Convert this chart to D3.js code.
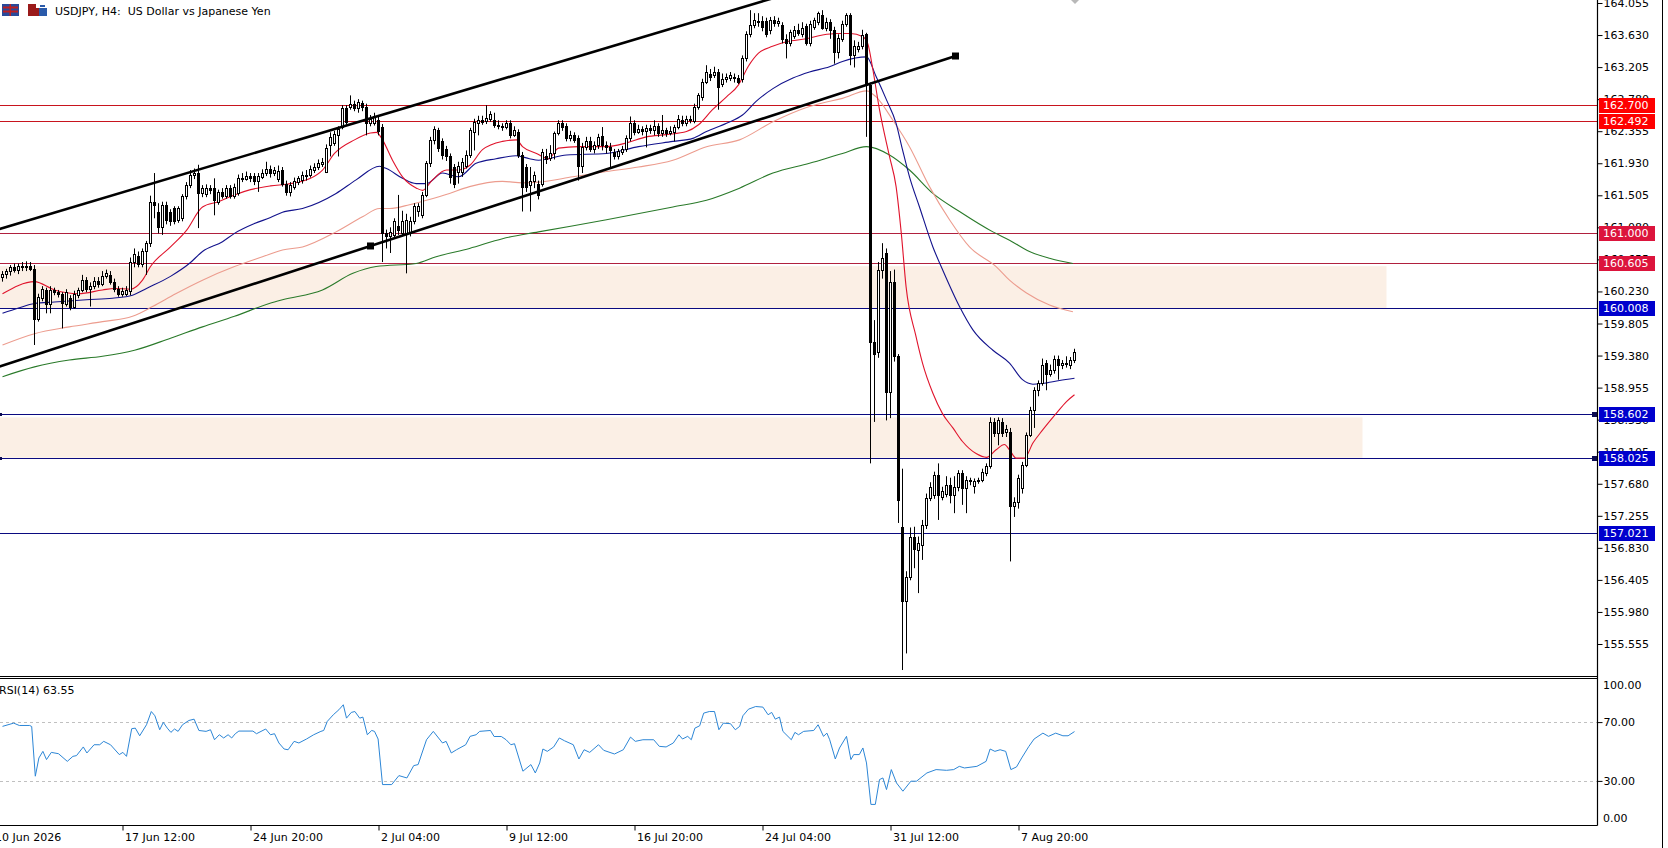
<!DOCTYPE html>
<html>
<head>
<meta charset="UTF-8">
<title>USDJPY H4</title>
<style>
  html, body { margin: 0; padding: 0; background: #fff; overflow: hidden; }
  svg text { font-family: "DejaVu Sans", sans-serif; font-size: 11px; fill: #000; }
  .axis path { display: none; }
  .axis line { stroke: #000; }
</style>
<script src="https://d3js.org/d3.v7.min.js"></script>
</head>
<body>
<script>
// ---- data ----
const title = "USDJPY, H4:  US Dollar vs Japanese Yen";

// H4 bars: [open, high, low, close]
const ohlc = [
  [160.42,160.50,160.36,160.46],[160.46,160.53,160.40,160.50],[160.50,160.58,160.44,160.55],[160.55,160.60,160.48,160.52],
  [160.52,160.60,160.46,160.57],[160.57,160.62,160.50,160.55],[160.55,160.63,160.50,160.57],[160.57,160.62,160.50,160.53],
  [160.53,160.58,159.52,159.87],[159.87,160.20,159.83,160.16],[160.14,160.30,160.10,160.26],[160.25,160.28,159.94,160.07],
  [160.07,160.30,159.94,160.25],[160.25,160.28,160.18,160.22],[160.22,160.25,160.15,160.20],[160.20,160.22,159.74,160.08],
  [160.06,160.26,160.03,160.22],[160.14,160.18,159.98,160.02],[160.03,160.24,160.00,160.20],[160.18,160.28,160.14,160.25],
  [160.25,160.45,160.22,160.38],[160.38,160.42,160.22,160.26],[160.26,160.35,160.03,160.30],[160.30,160.42,160.26,160.37],
  [160.37,160.42,160.28,160.33],[160.33,160.50,160.30,160.44],[160.44,160.52,160.40,160.47],[160.45,160.50,160.32,160.36],
  [160.36,160.40,160.22,160.26],[160.26,160.30,160.16,160.20],[160.20,160.28,160.16,160.23],[160.20,160.30,160.17,160.25],
  [160.23,160.68,160.18,160.62],[160.62,160.80,160.55,160.72],[160.70,160.76,160.55,160.60],[160.60,160.80,160.55,160.76],
  [160.76,160.90,160.45,160.87],[160.87,161.50,160.82,161.42],[161.42,161.80,161.20,161.38],[161.29,161.40,161.00,161.09],
  [161.09,161.42,160.98,161.38],[161.38,161.42,161.12,161.18],[161.28,161.32,161.10,161.16],[161.33,161.36,161.12,161.16],
  [161.18,161.36,161.14,161.33],[161.20,161.52,161.16,161.49],[161.49,161.68,161.45,161.64],[161.64,161.84,161.60,161.78],
  [161.77,161.86,161.72,161.80],[161.80,161.91,161.07,161.53],[161.53,161.64,161.48,161.60],[161.52,161.65,161.48,161.60],
  [161.60,161.64,161.52,161.57],[161.60,161.73,161.24,161.44],[161.42,161.58,161.38,161.55],[161.55,161.60,161.46,161.50],
  [161.50,161.64,161.46,161.60],[161.60,161.64,161.46,161.50],[161.50,161.66,161.46,161.62],[161.53,161.78,161.50,161.74],
  [161.74,161.80,161.68,161.72],[161.72,161.82,161.70,161.76],[161.76,161.80,161.68,161.73],[161.76,161.80,161.64,161.70],
  [161.70,161.80,161.55,161.76],[161.75,161.85,161.72,161.80],[161.80,161.95,161.76,161.86],[161.86,161.90,161.74,161.80],
  [161.80,161.88,161.76,161.84],[161.72,161.90,161.68,161.83],[161.84,161.88,161.62,161.66],[161.66,161.70,161.50,161.55],
  [161.55,161.68,161.49,161.64],[161.62,161.74,161.58,161.69],[161.68,161.76,161.64,161.73],[161.71,161.82,161.66,161.77],
  [161.76,161.84,161.70,161.78],[161.78,161.90,161.74,161.86],[161.84,161.93,161.80,161.88],[161.88,161.98,161.84,161.93],
  [161.92,162.00,161.88,161.95],[161.82,162.18,161.80,162.13],[162.17,162.34,162.02,162.28],[162.20,162.36,162.16,162.32],
  [162.30,162.42,162.02,162.38],[162.41,162.70,162.38,162.66],[162.66,162.70,162.44,162.48],[162.68,162.83,162.64,162.72],
  [162.72,162.76,162.62,162.66],[162.66,162.78,162.60,162.74],[162.73,162.76,162.62,162.67],[162.68,162.72,162.30,162.46],
  [162.46,162.57,162.42,162.52],[162.47,162.60,162.43,162.56],[162.50,162.56,162.30,162.36],[162.41,162.45,160.62,161.00],
  [161.00,161.05,160.80,160.96],[160.97,161.08,160.74,161.02],[160.98,161.20,160.94,161.16],[161.10,161.51,160.98,161.05],
  [161.00,161.30,160.96,161.16],[161.00,161.26,160.47,161.18],[161.00,161.22,160.96,161.16],[161.16,161.40,161.12,161.36],
  [161.30,161.40,161.22,161.36],[161.24,161.55,161.20,161.51],[161.51,161.96,161.48,161.93],[161.93,162.28,161.88,162.24],
  [162.24,162.42,162.18,162.39],[162.37,162.40,162.08,162.13],[162.22,162.26,161.98,162.04],[162.12,162.16,161.96,162.02],
  [162.02,162.06,161.66,161.75],[161.88,161.92,161.60,161.66],[161.82,161.95,161.66,161.90],[161.82,162.00,161.75,161.95],
  [161.90,162.10,161.86,162.04],[162.04,162.40,162.00,162.37],[162.35,162.52,162.10,162.48],[162.46,162.56,162.30,162.50],
  [162.50,162.56,162.44,162.48],[162.49,162.70,162.45,162.53],[162.52,162.62,162.48,162.58],[162.50,162.60,162.40,162.44],
  [162.44,162.50,162.38,162.42],[162.43,162.46,162.36,162.41],[162.41,162.50,162.38,162.47],[162.46,162.50,162.26,162.31],
  [162.31,162.42,162.28,162.37],[162.35,162.38,162.00,162.04],[162.04,162.08,161.29,161.62],[161.88,161.92,161.55,161.62],
  [161.64,161.88,161.29,161.70],[161.70,161.82,161.60,161.78],[161.66,161.70,161.45,161.51],[161.66,162.12,161.62,162.08],
  [162.02,162.12,161.92,161.98],[162.00,162.17,161.96,162.06],[162.06,162.35,161.98,162.33],[162.33,162.50,162.30,162.46],
  [162.46,162.50,162.36,162.41],[162.42,162.46,162.22,162.26],[162.26,162.36,162.22,162.30],[162.30,162.34,162.20,162.24],
  [162.26,162.30,161.70,161.90],[161.90,162.20,161.80,162.15],[162.15,162.28,162.10,162.23],[162.23,162.28,162.08,162.12],
  [162.12,162.22,162.06,162.17],[162.17,162.32,162.12,162.28],[162.29,162.41,162.10,162.17],[162.17,162.22,162.06,162.14],
  [162.14,162.20,161.86,162.10],[162.08,162.12,161.98,162.03],[162.03,162.12,161.98,162.09],[162.08,162.16,162.04,162.12],
  [162.12,162.30,162.08,162.26],[162.26,162.55,162.22,162.46],[162.46,162.50,162.30,162.35],[162.35,162.44,162.32,162.38],
  [162.38,162.42,162.30,162.36],[162.36,162.44,162.14,162.40],[162.40,162.44,162.32,162.37],[162.37,162.50,162.30,162.42],
  [162.42,162.46,162.28,162.33],[162.33,162.57,162.28,162.37],[162.37,162.40,162.28,162.33],[162.33,162.42,162.30,162.36],
  [162.34,162.44,162.22,162.41],[162.41,162.57,162.38,162.52],[162.50,162.56,162.42,162.46],[162.47,162.56,162.42,162.52],
  [162.52,162.56,162.46,162.50],[162.49,162.72,162.46,162.68],[162.68,162.86,162.64,162.83],[162.81,163.05,162.76,163.01],
  [163.01,163.23,162.98,163.14],[163.12,163.18,163.02,163.08],[163.10,163.21,163.06,163.14],[163.14,163.18,162.64,162.94],
  [162.98,163.12,162.94,163.05],[163.05,163.12,163.00,163.07],[163.06,163.14,163.02,163.10],[163.08,163.12,163.00,163.06],
  [163.06,163.10,162.98,163.01],[163.05,163.36,163.00,163.32],[163.32,163.68,163.28,163.65],[163.65,163.96,163.60,163.76],
  [163.76,163.92,163.72,163.83],[163.80,163.92,163.74,163.82],[163.82,163.88,163.68,163.74],[163.82,163.86,163.60,163.65],
  [163.70,163.87,163.64,163.83],[163.83,163.88,163.74,163.79],[163.79,163.86,163.74,163.81],[163.76,163.80,163.52,163.58],
  [163.58,163.64,163.32,163.52],[163.52,163.70,163.48,163.67],[163.62,163.75,163.58,163.70],[163.70,163.78,163.62,163.66],
  [163.65,163.80,163.60,163.72],[163.75,163.78,163.49,163.52],[163.52,163.82,163.48,163.78],[163.74,163.86,163.70,163.83],
  [163.80,163.94,163.76,163.92],[163.90,163.96,163.70,163.72],[163.72,163.86,163.68,163.80],[163.80,163.84,163.58,163.70],
  [163.70,163.74,163.25,163.41],[163.41,163.64,163.32,163.59],[163.58,163.82,163.54,163.78],[163.78,163.92,163.74,163.89],
  [163.89,163.92,163.23,163.36],[163.36,163.56,163.20,163.49],[163.44,163.54,163.40,163.48],[163.48,163.70,163.44,163.63],
  [163.64,163.66,162.28,162.97],[162.97,163.00,157.95,159.56],[159.56,159.85,158.50,159.40],[159.43,160.62,159.35,160.52],
  [160.52,160.87,160.40,160.68],[160.74,160.80,158.52,158.90],[158.90,160.50,158.55,160.36],[160.36,160.52,159.30,159.37],
  [159.37,159.40,157.16,157.46],[157.11,157.88,155.21,156.12],[156.12,156.52,155.43,156.45],[156.45,157.10,156.40,156.98],
  [156.98,157.11,156.56,156.82],[156.80,156.98,156.23,156.89],[156.87,157.20,156.67,157.13],[157.13,157.55,157.08,157.49],
  [157.49,157.70,157.45,157.64],[157.53,157.84,157.48,157.80],[157.80,157.95,157.20,157.53],[157.51,157.64,157.46,157.58],
  [157.55,157.78,157.50,157.66],[157.66,157.76,157.42,157.53],[157.53,157.78,157.29,157.64],[157.64,157.86,157.58,157.82],
  [157.82,157.86,157.40,157.62],[157.62,157.78,157.29,157.73],[157.73,157.76,157.66,157.71],[157.65,157.75,157.55,157.71],
  [157.71,157.76,157.68,157.73],[157.73,157.88,157.70,157.84],[157.82,157.95,157.78,157.91],[157.91,158.56,157.88,158.50],
  [158.50,158.55,158.30,158.35],[158.35,158.56,158.19,158.52],[158.50,158.55,158.30,158.35],[158.37,158.46,158.30,158.41],
  [158.37,158.42,156.65,157.38],[157.38,157.50,157.24,157.44],[157.44,157.80,157.35,157.75],[157.62,157.97,157.55,157.93],
  [157.93,158.36,157.90,158.33],[158.33,158.70,158.30,158.66],[158.66,158.96,158.42,158.92],[158.92,159.05,158.84,159.01],
  [159.01,159.34,158.98,159.25],[159.28,159.32,158.92,159.14],[159.14,159.26,159.10,159.19],[159.19,159.38,159.14,159.34],
  [159.34,159.38,159.06,159.25],[159.26,159.32,159.20,159.28],[159.27,159.37,159.22,159.28],[159.25,159.36,159.20,159.32],
  [159.32,159.47,159.28,159.43]
];

// moving averages read at points along each curve: [bar index, price]
const maFast = [[0,160.20],[8,160.36],[13,160.25],[19,160.20],[25,160.25],[28,160.27],[32,160.26],[35,160.38],[37,160.56],
  [42,160.82],[46,161.04],[50,161.35],[54,161.42],[58,161.51],[62,161.58],[67,161.63],[72,161.66],[77,161.73],[80,161.84],
  [83,162.06],[88,162.24],[92,162.33],[93.5,162.34],[95,162.24],[97.5,161.97],[100,161.75],[103.5,161.60],[105,161.57],
  [107.5,161.71],[111,161.84],[114,161.84],[117,161.91],[120,162.11],[125,162.22],[128.5,162.24],[130,162.15],[133.5,162.06],
  [136.5,161.99],[139,162.13],[144,162.15],[151,162.15],[156,162.20],[161,162.28],[166,162.31],[171,162.35],[174,162.44],
  [177.5,162.64],[181,162.81],[184,162.97],[186.5,163.22],[189,163.39],[192.5,163.48],[196,163.54],[201,163.58],[205,163.63],
  [208.5,163.65],[212,163.65],[215,163.61],[216.3,163.52],[217.6,163.17],[219.25,162.64],[221.75,162.02],[223.4,161.62],
  [224.7,161.00],[225.9,160.29],[228.3,159.65],[230,159.28],[232.6,158.88],[235,158.61],[237.6,158.42],[240,158.24],
  [243.4,158.08],[246,158.03],[248.4,158.13],[250.5,158.20],[251.75,158.13],[253.4,158.02],[255.5,158.02],[257.6,158.22],
  [260,158.39],[263.4,158.61],[266,158.77],[268,158.86]];
const maMid = [[0,159.94],[4,160.01],[8,160.07],[13,160.09],[21,160.12],[27.5,160.14],[32.5,160.18],[36,160.27],[42,160.43],
  [46.7,160.60],[50,160.76],[55,160.89],[58,161.00],[63,161.13],[67,161.21],[70,161.28],[75,161.33],[83.4,161.53],[88.4,161.71],
  [94.25,161.89],[96,161.86],[100,161.73],[103.4,161.66],[106,161.66],[110,161.80],[114,161.75],[118.4,161.93],[123.4,161.99],
  [128.4,162.03],[131.75,161.99],[134,161.97],[141,162.04],[151,162.06],[159,162.15],[167.6,162.22],[172.6,162.26],[176,162.35],
  [181,162.46],[185,162.57],[188.4,162.75],[192.6,162.92],[197.6,163.06],[201.75,163.14],[206.75,163.21],[210,163.28],
  [216,163.34],[218.4,163.08],[221,162.77],[223.4,162.46],[225,162.11],[226.75,161.75],[229.25,161.35],[232.6,160.82],
  [235,160.52],[239.25,160.03],[242.6,159.72],[247.6,159.45],[251.75,159.28],[255,159.06],[257.6,159.00],[260,159.01],
  [264.25,159.05],[268,159.08]];
const maSlow = [[0,159.52],[8,159.67],[16.7,159.76],[25,159.83],[32.5,159.90],[37.5,160.03],[43.3,160.20],[50,160.38],
  [58,160.56],[65,160.69],[70,160.78],[75,160.82],[83.4,161.02],[90,161.22],[94.25,161.33],[96.75,161.33],[101.75,161.38],
  [106,161.44],[111.75,161.53],[116.75,161.62],[125,161.69],[130,161.67],[134,161.68],[142.6,161.75],[151,161.82],[159,161.88],
  [167.6,161.97],[176,162.15],[184.25,162.24],[192.6,162.48],[201,162.67],[205,162.73],[210,162.79],[216,162.89],[218.4,162.81],
  [222.6,162.50],[226.75,162.15],[231.75,161.62],[236.75,161.18],[241.75,160.82],[248.4,160.56],[251.75,160.38],[256,160.21],
  [261.75,160.05],[267.6,159.96]];
const maLong = [[0,159.10],[8,159.23],[16.7,159.32],[25,159.37],[33,159.45],[42,159.61],[50,159.76],[58,159.90],[66.7,160.07],
  [70,160.12],[80,160.25],[87.6,160.47],[93.4,160.56],[103.4,160.60],[108.4,160.69],[116.75,160.80],[125,160.93],[134,161.02],
  [151,161.18],[167.6,161.35],[176,161.44],[184.25,161.60],[192.6,161.80],[201.75,161.93],[210,162.06],[216,162.15],
  [221.75,162.04],[226.75,161.84],[232.6,161.53],[239.25,161.29],[247.6,161.02],[251.75,160.91],[256.75,160.76],
  [261.75,160.67],[267.6,160.60]];

// RSI(14): [bar index, value]
const rsi = [[0,67.1],[2.8,69.3],[4.2,67.7],[6.8,67.7],[7.3,67.0],[8.2,33.2],[9.1,45.6],[10.1,50.1],[11,44.5],[12.2,49.4],
  [14,48.5],[16.2,43.3],[17.6,46.7],[18.5,47.2],[20.2,53.1],[21.1,49.0],[22.9,54.6],[24.3,54.6],[25.3,56.9],[27,54.6],
  [29.2,47.9],[30.1,49.4],[31,46.7],[32.3,65.5],[33.2,65.9],[34.3,60.7],[36,68.2],[37.2,77.2],[38.1,74.3],[39.3,64.8],
  [40.2,69.8],[41.2,65.9],[42.1,63.0],[43,65.3],[43.9,63.7],[45,68.2],[46.6,71.1],[47.9,72.0],[49.1,64.3],[50.9,63.7],
  [52,64.8],[53,58.0],[54.2,61.4],[55.3,59.2],[56.4,61.4],[57.3,59.2],[58.2,62.1],[59.1,63.9],[62.6,63.9],[63.5,62.1],
  [65.8,65.3],[67,61.4],[68,62.1],[69.1,55.8],[70.4,51.7],[71.4,51.2],[72.9,56.9],[74.1,55.8],[76,58.5],[77.8,61.4],
  [79.6,63.7],[80.3,64.3],[81.2,70.5],[82.7,75.0],[84.1,78.4],[85.2,81.8],[86,72.7],[87.2,76.6],[88.1,77.2],[89.3,72.7],
  [90.1,73.4],[91.2,61.4],[92.3,64.3],[93,63.7],[93.9,58.5],[95,27.5],[97.3,27.5],[99.1,33.6],[101.1,32.0],[102.8,40.4],
  [103.9,41.1],[106,58.0],[107.7,63.7],[110,55.8],[110.9,56.9],[112.2,49.0],[113.5,51.2],[115.8,54.6],[116.9,60.3],
  [118.4,61.4],[119.3,63.7],[122,64.3],[122.9,60.2],[124.7,60.2],[125.9,58.0],[127.1,54.6],[128,55.3],[130.1,36.6],
  [132.1,41.1],[133.2,35.4],[134.3,42.2],[135.1,51.7],[136.2,50.1],[137.8,53.1],[139.2,59.2],[140.5,57.3],[142.7,54.6],
  [144.1,44.9],[145.4,51.2],[146.8,49.4],[149,54.6],[150.3,50.8],[153,48.3],[155.2,51.2],[157,59.8],[158.2,56.9],
  [160.1,58.0],[162.8,58.0],[164.2,53.5],[165.9,53.1],[167.7,55.8],[169.1,61.4],[170,58.5],[171.3,60.3],[172.2,58.0],
  [173.1,65.9],[174.3,67.5],[175.3,76.1],[176.7,77.2],[178,77.2],[179.1,64.8],[180.2,69.3],[182,68.9],[183.2,64.8],
  [184.3,67.1],[185.1,74.3],[186.5,78.8],[188.3,80.6],[190.1,80.2],[191.4,75.0],[192.3,76.6],[193.2,72.0],[194.25,73.4],
  [195.1,63.7],[197.2,58.0],[198.1,63.0],[199,61.4],[200.3,63.7],[202.8,64.3],[203.9,68.2],[205.25,60.3],[206.1,62.5],
  [206.8,58.0],[208.2,44.9],[209.25,52.4],[211,60.3],[212.1,44.5],[212.8,47.9],[214.2,47.9],[215.1,52.4],[216,42.2],
  [217.1,14.0],[218.2,14.0],[219.25,30.9],[220.1,32.0],[221,24.1],[222.2,37.7],[223.5,28.6],[225.1,23.0],[227.1,29.8],
  [228.5,29.8],[231.1,35.4],[233.4,37.7],[236,37.2],[237.8,37.7],[239.2,39.9],[240.5,38.8],[243.6,39.9],[245.9,43.3],
  [246.9,51.7],[248.1,50.1],[249.4,51.2],[250.8,50.1],[252.1,37.7],[253.5,39.5],[254.8,45.6],[256.6,53.5],[257.9,58.5],
  [260.1,62.5],[261.5,60.3],[263.3,62.5],[265.1,60.7],[266.4,60.7],[268,63.55]];
const rsiLast = "63.55";

// horizontal levels and zones
const resistLevels = [162.700, 162.492];
const pivotLevels = [161.000, 160.605];
const supportLevels = [160.008, 158.602, 158.025, 157.021];
const zones = [[160.565, 160.008, 346], [158.560, 158.025, 340]]; // top, bottom, end bar

// trend lines: [[bar, price], [bar, price]]
const upperChannel = [[-60, 160.12], [230, 164.71]];
const lowerChannel = [[-54.25, 158.314], [238.25, 163.352]];
const lowerAnchors = [[92, 160.833], [238.25, 163.352]];

// axis ticks
const priceTicks = d3.range(0, 21).map(k => 164.055 - k * 0.425);
const timeTicks = [30, 62, 94, 126, 158, 190, 222, 254];
const timeLabels = ["17 Jun 12:00", "24 Jun 20:00", "2 Jul 04:00", "9 Jul 12:00",
                    "16 Jul 20:00", "24 Jul 04:00", "31 Jul 12:00", "7 Aug 20:00"];
const firstLabel = "10 Jun 2026";

// ---- layout ----
const W = 1668, H = 848;
const axisX = 1597;
const mainBottom = 676, rsiTop = 678, rsiBottom = 825;

const svg = d3.select("body").append("svg").attr("width", W).attr("height", H);

const x = d3.scaleLinear().domain([0, 1]).range([2.5, 6.5]);
const y = d3.scaleLinear().domain([155.555, 164.055]).range([644, 3]);
const yr = d3.scaleLinear().domain([0, 100]).range([rsiBottom, rsiTop]);

svg.append("clipPath").attr("id", "mainClip")
  .append("rect").attr("x", 0).attr("y", 0).attr("width", axisX).attr("height", mainBottom);
svg.append("clipPath").attr("id", "rsiClip")
  .append("rect").attr("x", 0).attr("y", rsiTop).attr("width", axisX).attr("height", rsiBottom - rsiTop);

const main = svg.append("g").attr("clip-path", "url(#mainClip)");

// zones
main.selectAll("rect.zone").data(zones).join("rect")
  .attr("x", -5)
  .attr("y", d => y(d[0]))
  .attr("width", d => x(d[2]) + 5)
  .attr("height", d => y(d[1]) - y(d[0]))
  .attr("fill", "#fbefe5");

// horizontal lines
function hline(v, color) {
  main.append("line")
    .attr("x1", 0).attr("x2", axisX)
    .attr("y1", Math.round(y(v)) + 0.5).attr("y2", Math.round(y(v)) + 0.5)
    .attr("stroke", color).attr("stroke-width", 1);
}
resistLevels.forEach(v => hline(v, "#c8141e"));
pivotLevels.forEach(v => hline(v, "#b0203e"));
supportLevels.forEach(v => hline(v, "#0a0a80"));

// moving averages
const maLine = d3.line().x(d => x(d[0])).y(d => y(d[1])).curve(d3.curveMonotoneX);
[[maLong, "#2a7a2a"], [maSlow, "#ec9c8e"], [maMid, "#12128c"], [maFast, "#e0142c"]].forEach(([data, c]) => {
  main.append("path").datum(data).attr("d", maLine)
    .attr("fill", "none").attr("stroke", c).attr("stroke-width", 1.1);
});

// candles
const candle = main.selectAll("g.candle").data(ohlc).join("g").attr("class", "candle");
candle.append("line")
  .attr("x1", (d, i) => x(i)).attr("x2", (d, i) => x(i))
  .attr("y1", d => y(d[1])).attr("y2", d => y(d[2]))
  .attr("stroke", "#000").attr("stroke-width", 1);
candle.append("rect")
  .attr("x", (d, i) => x(i) - 1)
  .attr("width", 2)
  .attr("y", d => Math.round(y(Math.max(d[0], d[3]))) + 0.5)
  .attr("height", d => Math.max(1, Math.round(y(Math.min(d[0], d[3]))) - Math.round(y(Math.max(d[0], d[3])))))
  .attr("fill", d => d[3] >= d[0] ? "#fff" : "#000")
  .attr("stroke", "#000").attr("stroke-width", 1);

// trend lines
const tline = d3.line().x(d => x(d[0])).y(d => y(d[1]));
[upperChannel, lowerChannel].forEach(seg => {
  main.append("path").datum(seg).attr("d", tline)
    .attr("fill", "none").attr("stroke", "#000").attr("stroke-width", 2.6);
});
main.selectAll("rect.anchor").data(lowerAnchors).join("rect")
  .attr("x", d => x(d[0]) - 3.5).attr("y", d => y(d[1]) - 3.5)
  .attr("width", 7).attr("height", 7).attr("fill", "#000");

// selected-line end markers on the two blue zone lines
[158.602, 158.025].forEach(v => {
  svg.append("rect").attr("x", axisX - 5).attr("y", Math.round(y(v)) - 2)
    .attr("width", 5).attr("height", 5).attr("fill", "#0a0a50");
  svg.append("rect").attr("x", 0).attr("y", Math.round(y(v)) - 1)
    .attr("width", 2).attr("height", 3).attr("fill", "#0a0a50");
});

// small shift marker at the top
svg.append("path").attr("d", "M1071,0 L1079,0 L1075,4 Z").attr("fill", "#b8b8b8");

// ---- RSI panel ----
const rsiG = svg.append("g").attr("clip-path", "url(#rsiClip)");
[70, 30].forEach(v => {
  rsiG.append("line").attr("x1", 0).attr("x2", axisX)
    .attr("y1", Math.round(yr(v)) + 0.5).attr("y2", Math.round(yr(v)) + 0.5)
    .attr("stroke", "#c0c0c0").attr("stroke-dasharray", "3,3");
});
rsiG.append("path").datum(rsi)
  .attr("d", d3.line().x(d => x(d[0])).y(d => yr(d[1])))
  .attr("fill", "none").attr("stroke", "#2c86d6").attr("stroke-width", 1);

svg.append("text").attr("x", -1).attr("y", 694).text("RSI(14) " + rsiLast);

// ---- frame ----
const frame = svg.append("g").attr("stroke", "#000").attr("stroke-width", 1.2).attr("fill", "none");
frame.append("line").attr("x1", axisX + 0.5).attr("x2", axisX + 0.5).attr("y1", 0).attr("y2", rsiBottom + 0.5);
frame.append("line").attr("x1", 0).attr("x2", axisX + 0.5).attr("y1", mainBottom + 0.5).attr("y2", mainBottom + 0.5);
frame.append("line").attr("x1", 0).attr("x2", axisX + 0.5).attr("y1", rsiTop + 0.5).attr("y2", rsiTop + 0.5);
frame.append("line").attr("x1", 0).attr("x2", axisX + 0.5).attr("y1", rsiBottom + 0.5).attr("y2", rsiBottom + 0.5);
frame.append("line").attr("x1", W - 5.5).attr("x2", W - 5.5).attr("y1", 0).attr("y2", H).attr("stroke-width", 1);

// price axis
const pAxis = svg.append("g").attr("class", "axis")
  .attr("transform", `translate(${axisX + 0.5},0)`)
  .call(d3.axisRight(y).tickValues(priceTicks).tickSize(5).tickFormat(d3.format(".3f")));
pAxis.selectAll("text").attr("x", 6);

// rsi axis
const rAxis = svg.append("g").attr("class", "axis")
  .attr("transform", `translate(${axisX + 0.5},0)`)
  .call(d3.axisRight(yr).tickValues([70, 30]).tickSize(5).tickFormat(d3.format(".2f")));
rAxis.selectAll("text").attr("x", 6);
svg.append("text").attr("x", axisX + 6).attr("y", 685).attr("dy", "0.35em").text("100.00");
svg.append("text").attr("x", axisX + 6).attr("y", 818).attr("dy", "0.35em").text("0.00");

// level labels
function tag(v, bg) {
  const cy = Math.round(y(v));
  svg.append("rect").attr("x", axisX + 2).attr("y", cy - 7).attr("width", 56).attr("height", 15).attr("fill", bg);
  svg.append("text").attr("x", axisX + 6).attr("y", cy).attr("dy", "0.36em")
    .style("fill", "#fff").text(d3.format(".3f")(v));
}
resistLevels.forEach(v => tag(v, "#ff0000"));
pivotLevels.forEach(v => tag(v, "#dc143c"));
supportLevels.forEach(v => tag(v, "#0000cd"));

// time axis
const tAxis = svg.append("g").attr("class", "axis")
  .attr("transform", `translate(0,${rsiBottom + 0.5})`)
  .call(d3.axisBottom(x).tickValues(timeTicks).tickSize(5).tickFormat((d, k) => timeLabels[k]));
tAxis.selectAll("text").attr("x", 2).style("text-anchor", "start");
svg.append("text").attr("x", -5).attr("y", 841).text(firstLabel);

// ---- title and icons ----
const icons = svg.append("g");
icons.append("rect").attr("x", 2).attr("y", 4).attr("width", 17).attr("height", 12).attr("fill", "#2a4a9a");
[6.5, 10.5].forEach(yy => icons.append("rect").attr("x", 3).attr("y", yy).attr("width", 15).attr("height", 2).attr("fill", "#c02020"));
icons.append("rect").attr("x", 9.5).attr("y", 4).attr("width", 1.5).attr("height", 12).attr("fill", "#c02020");
icons.append("rect").attr("x", 28).attr("y", 4).attr("width", 19).attr("height", 12).attr("fill", "#9a1a1a");
icons.append("rect").attr("x", 36).attr("y", 4).attr("width", 11).attr("height", 4).attr("fill", "#fff");
icons.append("rect").attr("x", 39).attr("y", 8).attr("width", 8).attr("height", 8).attr("fill", "#2a5aaa");
icons.append("rect").attr("x", 40).attr("y", 5).attr("width", 5).attr("height", 2).attr("fill", "#2a5aaa");

svg.append("text").attr("x", 55).attr("y", 15).style("white-space", "pre").text(title);
</script>
</body>
</html>
